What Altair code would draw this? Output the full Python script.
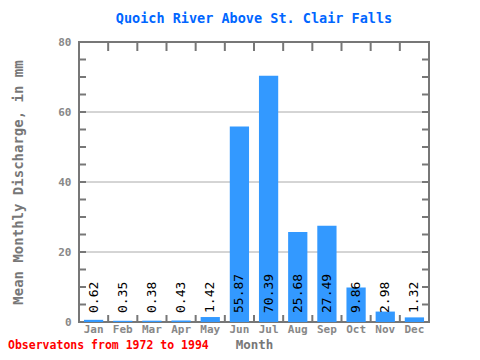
import altair as alt
import pandas as pd

months = ["Jan", "Feb", "Mar", "Apr", "May", "Jun", "Jul", "Aug", "Sep", "Oct", "Nov", "Dec"]
discharge = [0.62, 0.35, 0.38, 0.43, 1.42, 55.87, 70.39, 25.68, 27.49, 9.86, 2.98, 1.32]
y_labels = [0, 20, 40, 60, 80]
grid_values = [20, 40, 60]
minor_ticks = [5, 10, 15, 20, 25, 30, 35, 40, 45, 50, 55, 60, 65, 70, 75]
chart_title = "Quoich River Above St. Clair Falls"
y_title = "Mean Monthly Discharge, in mm"
x_title = "Month"
note = "Observatons from 1972 to 1994"

FONT = "DejaVu Sans Mono"
FRAME = "#777777"

df = pd.DataFrame({
    "Month": months,
    "Discharge": discharge,
    "Label": [f"{v:.2f}" for v in discharge],
})

yscale = alt.Scale(domain=[0, 80], nice=False, zero=True)
xscale = alt.Scale(paddingInner=0, paddingOuter=0)

x_axis = alt.Axis(
    title=x_title, labelAngle=0, ticks=False, domain=False,
    labelFont=FONT, labelFontSize=11, labelColor="#888888", labelFontWeight="bold",
    labelPadding=1, titleFont=FONT, titleFontSize=12.5, titleFontWeight="bold",
    titleColor=FRAME, titleBaseline="alphabetic", titleY=26.8,
)
y_axis = alt.Axis(
    title=y_title, values=y_labels, grid=False, ticks=False, domain=False,
    labelFont=FONT, labelFontSize=11, labelColor="#888888", labelFontWeight="bold",
    labelPadding=8, titleFont=FONT, titleFontSize=14, titleFontWeight="bold",
    titleColor=FRAME, titlePadding=32,
)

grid = alt.Chart(pd.DataFrame({"g": grid_values})).mark_rule(color="#aaaaaa", strokeWidth=1).encode(
    y=alt.Y("g:Q", scale=yscale, axis=y_axis),
    x=alt.value(0), x2=alt.value(350),
)

bars = alt.Chart(df).mark_bar(color="#3399ff", width=alt.RelativeBandSize(0.66)).encode(
    x=alt.X("Month:N", sort=months, scale=xscale, axis=x_axis),
    y=alt.Y("Discharge:Q", scale=yscale, axis=y_axis),
)

left_ticks = alt.Chart(pd.DataFrame({"t": minor_ticks})).mark_rule(color=FRAME, strokeWidth=2).encode(
    y=alt.Y("t:Q", scale=yscale, axis=y_axis),
    x=alt.value(0), x2=alt.value(7),
)
right_ticks = alt.Chart(pd.DataFrame({"t": minor_ticks})).mark_rule(color=FRAME, strokeWidth=2).encode(
    y=alt.Y("t:Q", scale=yscale, axis=y_axis),
    x=alt.value(343), x2=alt.value(350),
)

top_ticks = alt.Chart(df).mark_rule(color=FRAME, strokeWidth=2).encode(
    x=alt.X("Month:N", sort=months, scale=xscale, bandPosition=0, axis=x_axis),
    y=alt.value(0), y2=alt.value(9),
)
bottom_ticks = alt.Chart(df).mark_rule(color=FRAME, strokeWidth=2).encode(
    x=alt.X("Month:N", sort=months, scale=xscale, bandPosition=0, axis=x_axis),
    y=alt.value(273), y2=alt.value(280),
)

labels = alt.Chart(df).mark_text(
    angle=270, align="left", baseline="middle", dx=9, font=FONT, fontSize=13, color="black"
).encode(
    x=alt.X("Month:N", sort=months, scale=xscale, axis=x_axis),
    y=alt.Y("zero:Q", scale=yscale, axis=y_axis),
    text="Label:N",
).transform_calculate(zero="0")

note_layer = alt.Chart(pd.DataFrame({"n": [note]})).mark_text(
    align="left", baseline="alphabetic", font=FONT, fontSize=11.5, fontWeight="bold", color="#ff0000"
).encode(
    x=alt.value(-71), y=alt.value(307), text="n:N",
)

chart = alt.layer(grid, bars, labels, left_ticks, right_ticks, top_ticks, bottom_ticks, note_layer).properties(
    width=350, height=280,
    title=alt.TitleParams(chart_title, font=FONT, fontSize=13.5, fontWeight="bold", color="#0066ff",
                          anchor="middle", frame="group", offset=11),
    autosize=alt.AutoSizeParams(type="none"),
    padding={"left": 71, "top": 34, "right": 43, "bottom": 30},
).configure_view(stroke=FRAME, strokeWidth=2)

chart.save("out.html", embed_options={"renderer": "svg", "actions": False})
